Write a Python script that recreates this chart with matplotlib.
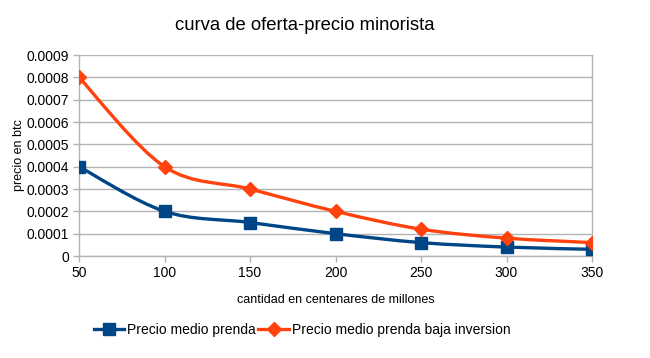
import numpy as np
import matplotlib
matplotlib.use("Agg")
import matplotlib.pyplot as plt
from matplotlib.path import Path
from matplotlib.patches import PathPatch
from matplotlib.lines import Line2D

plt.rcParams['font.family'] = ['Liberation Sans', 'DejaVu Sans']

#Data
cantidad = [50, 100, 150, 200, 250, 300, 350]
precioMedio = [0.0004, 0.0002, 0.00015, 0.0001, 0.00006, 0.00004, 0.00003]
precioBaja = [0.0008, 0.0004, 0.0003, 0.0002, 0.00012, 0.00008, 0.00006]
yTicks = [0, 0.0001, 0.0002, 0.0003, 0.0004, 0.0005, 0.0006, 0.0007, 0.0008, 0.0009]
yTickLabels = ["0", "0.0001", "0.0002", "0.0003", "0.0004", "0.0005", "0.0006", "0.0007", "0.0008", "0.0009"]

blue = "#004586"
orange = "#ff420e"
grid = "#b3b3b3"


#Smooth curve through the points (Catmull-Rom as cubic bezier, drawn by matplotlib)
def smoothPath(xs, ys):
    pts = np.column_stack([xs, ys])
    ext = np.vstack([pts[0], pts, pts[-1]])
    verts = [tuple(pts[0])]
    codes = [Path.MOVETO]
    for i in range(len(pts) - 1):
        p0, p1, p2, p3 = ext[i], ext[i + 1], ext[i + 2], ext[i + 3]
        c1 = p1 + (p2 - p0) / 6.0
        c2 = p2 - (p3 - p1) / 6.0
        verts += [tuple(c1), tuple(c2), tuple(p2)]
        codes += [Path.CURVE4, Path.CURVE4, Path.CURVE4]
    return Path(verts, codes)


fig = plt.figure(figsize=(6.5, 3.58), dpi=100)
ax = fig.add_axes([79 / 650, 1 - 256 / 358, (592 - 79) / 650, (256 - 55) / 358])

ax.add_patch(PathPatch(smoothPath(cantidad, precioMedio), fill=False, edgecolor=blue, lw=2.4, zorder=3))
ax.add_patch(PathPatch(smoothPath(cantidad, precioBaja), fill=False, edgecolor=orange, lw=2.4, zorder=3))
ax.plot(cantidad, precioMedio, linestyle="none", marker="s", markersize=8.5, color=blue, zorder=4)
ax.plot(cantidad, precioBaja, linestyle="none", marker="D", markersize=7, color=orange, zorder=4)

ax.set_xlim(50, 350)
ax.set_ylim(0, 0.0009)
ax.set_xticks(cantidad)
ax.set_xticklabels([str(c) for c in cantidad])
ax.set_yticks(yTicks)
ax.set_yticklabels(yTickLabels)
ax.tick_params(axis="both", labelsize=10, color=grid, length=4, width=1, pad=3, labelcolor="black")
ax.grid(axis="y", color=grid, lw=1)
ax.set_axisbelow(True)
for side in ["left", "bottom", "right"]:
    ax.spines[side].set_color(grid)
    ax.spines[side].set_linewidth(1)
ax.spines["top"].set_visible(False)

fig.text(305 / 650, 1 - 25 / 358, "curva de oferta-precio minorista", ha="center", va="center", fontsize=13.3)
ax.set_xlabel("cantidad en centenares de millones", fontsize=9, labelpad=10)
ax.set_ylabel("precio en btc", fontsize=9, labelpad=1)

handles = [Line2D([], [], color=blue, lw=2.4, marker="s", markersize=8),
           Line2D([], [], color=orange, lw=2.4, marker="D", markersize=7)]
fig.legend(handles, ["Precio medio prenda", "Precio medio prenda baja inversion"],
           loc="center", bbox_to_anchor=(302 / 650, 1 - 330 / 358), ncol=2, frameon=False,
           fontsize=10, handlelength=2.2, handletextpad=0.2, columnspacing=0.2)

fig.savefig("out.png", dpi=100)
